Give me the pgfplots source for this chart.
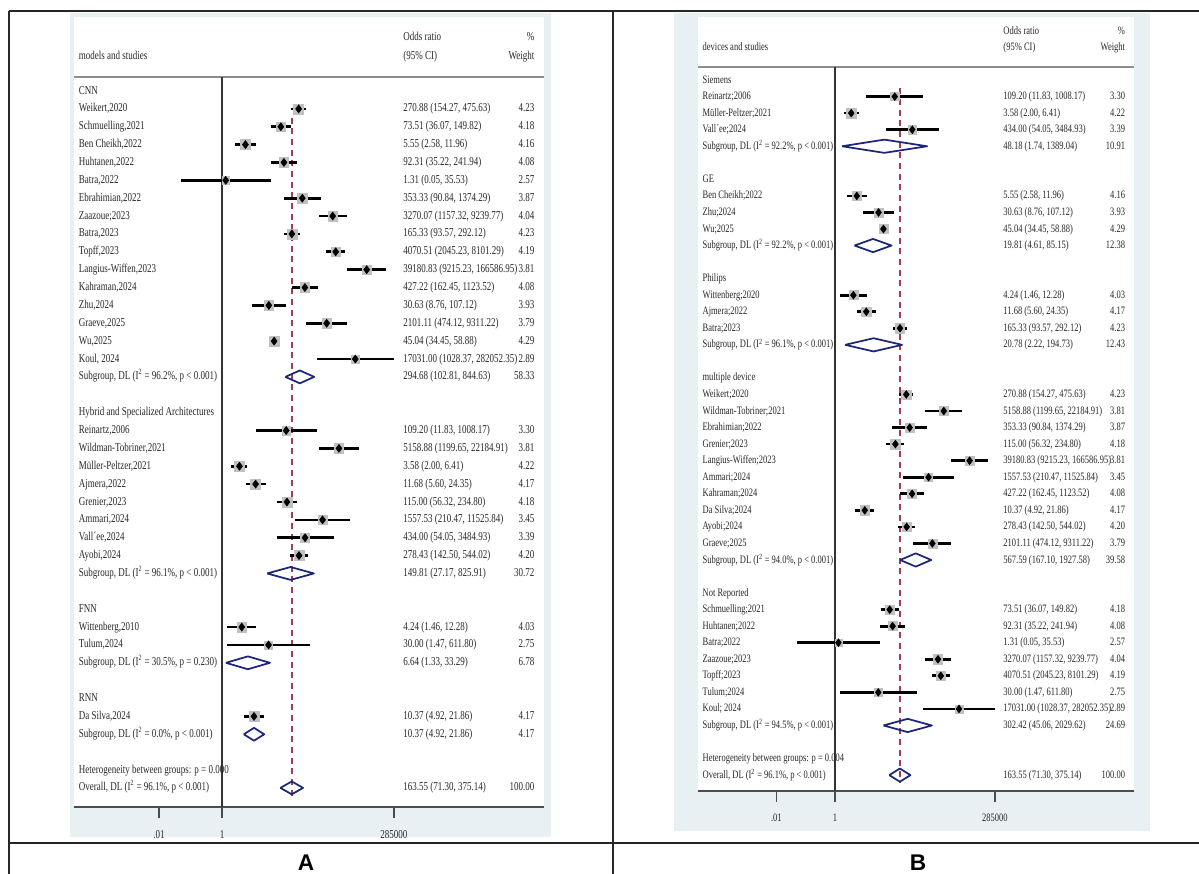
\documentclass[border=0pt]{standalone}
\usepackage{fontspec}
\setmainfont{Liberation Serif}[FakeStretch=0.75]
\newfontfamily\labfont{Liberation Sans}
\usepackage{pgfplots}
\usepackage{pgfplotstable}
\pgfplotsset{compat=1.18}

\definecolor{bgc}{RGB}{233,240,243}
\definecolor{navyd}{RGB}{28,38,120}
\definecolor{dashc}{RGB}{160,60,85}
\definecolor{sqc}{RGB}{192,192,192}
\definecolor{txtc}{RGB}{40,40,40}

\newcommand\fA{\fontsize{9}{10}\selectfont}
\newcommand\fB{\fontsize{8.5}{9.5}\selectfont}

% r = row (0 = first row under the header), or, lower, upper, weight
\pgfplotstableread{
r or lo hi w
1 270.88 154.27 475.63 4.23
2 73.51 36.07 149.82 4.18
3 5.55 2.58 11.96 4.16
4 92.31 35.22 241.94 4.08
5 1.31 0.05 35.53 2.57
6 353.33 90.84 1374.29 3.87
7 3270.07 1157.32 9239.77 4.04
8 165.33 93.57 292.12 4.23
9 4070.51 2045.23 8101.29 4.19
10 39180.83 9215.23 166586.95 3.81
11 427.22 162.45 1123.52 4.08
12 30.63 8.76 107.12 3.93
13 2101.11 474.12 9311.22 3.79
14 45.04 34.45 58.88 4.29
15 17031.00 1028.37 282052.35 2.89
19 109.20 11.83 1008.17 3.30
20 5158.88 1199.65 22184.91 3.81
21 3.58 2.00 6.41 4.22
22 11.68 5.60 24.35 4.17
23 115.00 56.32 234.80 4.18
24 1557.53 210.47 11525.84 3.45
25 434.00 54.05 3484.93 3.39
26 278.43 142.50 544.02 4.20
30 4.24 1.46 12.28 4.03
31 30.00 1.47 611.80 2.75
35 10.37 4.92 21.86 4.17
}\studiesA

\pgfplotstableread{
r or lo hi w
1 109.20 11.83 1008.17 3.30
2 3.58 2.00 6.41 4.22
3 434.00 54.05 3484.93 3.39
7 5.55 2.58 11.96 4.16
8 30.63 8.76 107.12 3.93
9 45.04 34.45 58.88 4.29
13 4.24 1.46 12.28 4.03
14 11.68 5.60 24.35 4.17
15 165.33 93.57 292.12 4.23
19 270.88 154.27 475.63 4.23
20 5158.88 1199.65 22184.91 3.81
21 353.33 90.84 1374.29 3.87
22 115.00 56.32 234.80 4.18
23 39180.83 9215.23 166586.95 3.81
24 1557.53 210.47 11525.84 3.45
25 427.22 162.45 1123.52 4.08
26 10.37 4.92 21.86 4.17
27 278.43 142.50 544.02 4.20
28 2101.11 474.12 9311.22 3.79
32 73.51 36.07 149.82 4.18
33 92.31 35.22 241.94 4.08
34 1.31 0.05 35.53 2.57
35 3270.07 1157.32 9239.77 4.04
36 4070.51 2045.23 8101.29 4.19
37 30.00 1.47 611.80 2.75
38 17031.00 1028.37 282052.35 2.89
}\studiesB

\pgfplotsset{
  ci/.style={black, line width=2pt, mark=none, forget plot},
  diam/.style={navyd, line width=1.3pt, mark=none, line join=round, forget plot},
}
\tikzset{
  tA/.style={font=\fA, text=txtc, inner sep=0pt},
  tB/.style={font=\fB, text=txtc, inner sep=0pt},
}

\newcommand{\rw}[5]{%
 \node[#1,anchor=mid west] at ({rel axis cs:0.01,0}|-{axis cs:1,-#2}) {#3};
 \node[#1,anchor=mid west] at ({rel axis cs:0.70,0}|-{axis cs:1,-#2}) {#4};
 \node[#1,anchor=mid east] at ({rel axis cs:0.98,0}|-{axis cs:1,-#2}) {#5};}

\newcommand{\cilines}[1]{%
 \pgfplotsforeachungrouped \i in {0,...,25} {%
  \pgfplotstablegetelem{\i}{lo}\of#1 \let\cilo\pgfplotsretval
  \pgfplotstablegetelem{\i}{hi}\of#1 \let\cihi\pgfplotsretval
  \pgfplotstablegetelem{\i}{r}\of#1 \let\cir\pgfplotsretval
  \edef\tmp{\noexpand\addplot[ci] coordinates {(\cilo,-\cir) (\cihi,-\cir)};}\tmp
 }}

\begin{document}
\begin{tikzpicture}[x=0.75pt,y=-0.75pt]
\path[use as bounding box] (0,0) rectangle (1199,874);
\fill[bgc] (70,13) rectangle (551,837);
\fill[bgc] (674,13) rectangle (1150,831);

% ---------------- Panel A ----------------
\begin{axis}[scale only axis, xmode=log, anchor=north west,
  at={(55.5pt,-12.75pt)}, width=352.5pt, height=592.5pt,
  xmin=2.0e-5, xmax=1.67e10, ymin=-40.07, ymax=4.14,
  axis x line*=bottom, axis y line=none,
  x axis line style={-, line width=1.3pt, black!70},
  ytick=\empty, xtick={0.01,1,285000}, xticklabels={.01,1,285000},
  minor xtick={}, tick align=outside, major tick length=8pt,
  tick style={line width=1.2pt, black!70},
  axis background/.style={fill=white}, clip=false,
  xticklabel style={font=\fA, text=txtc, yshift=-6pt}]
\draw[black!45, line width=1.1pt] ({rel axis cs:0,0}|-{axis cs:1,0.78}) -- ({rel axis cs:1,0}|-{axis cs:1,0.78});
\draw[black!80, line width=0.9pt] (axis cs:1,0.78) -- (axis cs:1,-40.07);
\addplot[dashc, line width=1.25pt, dash pattern=on 4.5pt off 3.5pt, forget plot] coordinates {(163.55,-1.5) (163.55,-39.5)};
\addplot[scatter, only marks, mark=square*, forget plot,
  scatter/use mapped color={draw=sqc, fill=sqc},
  visualization depends on={1.8*sqrt(\thisrow{w}) \as \msz},
  scatter/@pre marker code/.append style={/tikz/mark size=\msz}]
  table[x=or, y expr=-\thisrow{r}] {\studiesA};
\cilines{\studiesA}
\addplot[only marks, mark=diamond*, mark size=3pt, black, forget plot] table[x=or, y expr=-\thisrow{r}] {\studiesA};
\addplot[diam] coordinates {(102.81,-16) (294.68,-15.64) (844.63,-16) (294.68,-16.36) (102.81,-16)};
\addplot[diam] coordinates {(27.17,-27) (149.81,-26.64) (825.91,-27) (149.81,-27.36) (27.17,-27)};
\addplot[diam] coordinates {(1.33,-32) (6.64,-31.64) (33.29,-32) (6.64,-32.36) (1.33,-32)};
\addplot[diam] coordinates {(4.92,-36) (10.37,-35.64) (21.86,-36) (10.37,-36.36) (4.92,-36)};
\addplot[diam] coordinates {(71.30,-39) (163.55,-38.64) (375.14,-39) (163.55,-39.36) (71.30,-39)};
\node[tA,anchor=mid west] at ({rel axis cs:0.01,0}|-{axis cs:1,1.96}) {models and studies};
\node[tA,anchor=mid west] at ({rel axis cs:0.70,0}|-{axis cs:1,3.02}) {Odds ratio};
\node[tA,anchor=mid west] at ({rel axis cs:0.70,0}|-{axis cs:1,1.96}) {(95\% CI)};
\node[tA,anchor=mid east] at ({rel axis cs:0.98,0}|-{axis cs:1,3.02}) {\%};
\node[tA,anchor=mid east] at ({rel axis cs:0.98,0}|-{axis cs:1,1.96}) {Weight};
\rw{tA}{0}{CNN}{}{}
\rw{tA}{1}{Weikert,2020}{270.88 (154.27, 475.63)}{4.23}
\rw{tA}{2}{Schmuelling,2021}{73.51 (36.07, 149.82)}{4.18}
\rw{tA}{3}{Ben Cheikh,2022}{5.55 (2.58, 11.96)}{4.16}
\rw{tA}{4}{Huhtanen,2022}{92.31 (35.22, 241.94)}{4.08}
\rw{tA}{5}{Batra,2022}{1.31 (0.05, 35.53)}{2.57}
\rw{tA}{6}{Ebrahimian,2022}{353.33 (90.84, 1374.29)}{3.87}
\rw{tA}{7}{Zaazoue;2023}{3270.07 (1157.32, 9239.77)}{4.04}
\rw{tA}{8}{Batra,2023}{165.33 (93.57, 292.12)}{4.23}
\rw{tA}{9}{Topff,2023}{4070.51 (2045.23, 8101.29)}{4.19}
\rw{tA}{10}{Langius-Wiffen,2023}{39180.83 (9215.23, 166586.95)}{3.81}
\rw{tA}{11}{Kahraman,2024}{427.22 (162.45, 1123.52)}{4.08}
\rw{tA}{12}{Zhu,2024}{30.63 (8.76, 107.12)}{3.93}
\rw{tA}{13}{Graeve,2025}{2101.11 (474.12, 9311.22)}{3.79}
\rw{tA}{14}{Wu,2025}{45.04 (34.45, 58.88)}{4.29}
\rw{tA}{15}{Koul, 2024}{17031.00 (1028.37, 282052.35)}{2.89}
\rw{tA}{16}{Subgroup, DL (I\textsuperscript{2} = 96.2\%, p < 0.001)}{294.68 (102.81, 844.63)}{58.33}
\rw{tA}{18}{Hybrid and Specialized Architectures}{}{}
\rw{tA}{19}{Reinartz,2006}{109.20 (11.83, 1008.17)}{3.30}
\rw{tA}{20}{Wildman-Tobriner,2021}{5158.88 (1199.65, 22184.91)}{3.81}
\rw{tA}{21}{Müller-Peltzer,2021}{3.58 (2.00, 6.41)}{4.22}
\rw{tA}{22}{Ajmera,2022}{11.68 (5.60, 24.35)}{4.17}
\rw{tA}{23}{Grenier,2023}{115.00 (56.32, 234.80)}{4.18}
\rw{tA}{24}{Ammari,2024}{1557.53 (210.47, 11525.84)}{3.45}
\rw{tA}{25}{Vall´ee,2024}{434.00 (54.05, 3484.93)}{3.39}
\rw{tA}{26}{Ayobi,2024}{278.43 (142.50, 544.02)}{4.20}
\rw{tA}{27}{Subgroup, DL (I\textsuperscript{2} = 96.1\%, p < 0.001)}{149.81 (27.17, 825.91)}{30.72}
\rw{tA}{29}{FNN}{}{}
\rw{tA}{30}{Wittenberg,2010}{4.24 (1.46, 12.28)}{4.03}
\rw{tA}{31}{Tulum,2024}{30.00 (1.47, 611.80)}{2.75}
\rw{tA}{32}{Subgroup, DL (I\textsuperscript{2} = 30.5\%, p = 0.230)}{6.64 (1.33, 33.29)}{6.78}
\rw{tA}{34}{RNN}{}{}
\rw{tA}{35}{Da Silva,2024}{10.37 (4.92, 21.86)}{4.17}
\rw{tA}{36}{Subgroup, DL (I\textsuperscript{2} = 0.0\%, p < 0.001)}{10.37 (4.92, 21.86)}{4.17}
\rw{tA}{38}{Heterogeneity between groups: p = 0.000}{}{}
\rw{tA}{39}{Overall, DL (I\textsuperscript{2} = 96.1\%, p < 0.001)}{163.55 (71.30, 375.14)}{100.00}
\end{axis}

% ---------------- Panel B ----------------
\begin{axis}[scale only axis, xmode=log, anchor=north west,
  at={(523.5pt,-12.75pt)}, width=327pt, height=580.5pt,
  xmin=2.11e-5, xmax=1.6e10, ymin=-42.96, ymax=3.81,
  axis x line*=bottom, axis y line=none,
  x axis line style={-, line width=1.3pt, black!70},
  ytick=\empty, xtick={0.01,1,285000}, xticklabels={.01,1,285000},
  minor xtick={}, tick align=outside, major tick length=8pt,
  tick style={line width=1.2pt, black!70},
  axis background/.style={fill=white}, clip=false,
  xticklabel style={font=\fB, text=txtc, yshift=-6pt}]
\draw[black!45, line width=1.1pt] ({rel axis cs:0,0}|-{axis cs:1,0.79}) -- ({rel axis cs:1,0}|-{axis cs:1,0.79});
\draw[black!80, line width=0.9pt] (axis cs:1,0.79) -- (axis cs:1,-42.96);
\addplot[dashc, line width=1.25pt, dash pattern=on 4.5pt off 3.5pt, forget plot] coordinates {(163.55,-0.5) (163.55,-42.5)};
\addplot[scatter, only marks, mark=square*, forget plot,
  scatter/use mapped color={draw=sqc, fill=sqc},
  visualization depends on={1.7*sqrt(\thisrow{w}) \as \msz},
  scatter/@pre marker code/.append style={/tikz/mark size=\msz}]
  table[x=or, y expr=-\thisrow{r}] {\studiesB};
\cilines{\studiesB}
\addplot[only marks, mark=diamond*, mark size=2.9pt, black, forget plot] table[x=or, y expr=-\thisrow{r}] {\studiesB};
\addplot[diam] coordinates {(1.74,-4) (48.18,-3.6) (1389.04,-4) (48.18,-4.4) (1.74,-4)};
\addplot[diam] coordinates {(4.61,-10) (19.81,-9.6) (85.15,-10) (19.81,-10.4) (4.61,-10)};
\addplot[diam] coordinates {(2.22,-16) (20.78,-15.6) (194.73,-16) (20.78,-16.4) (2.22,-16)};
\addplot[diam] coordinates {(167.10,-29) (567.59,-28.6) (1927.58,-29) (567.59,-29.4) (167.10,-29)};
\addplot[diam] coordinates {(45.06,-39) (302.42,-38.6) (2029.62,-39) (302.42,-39.4) (45.06,-39)};
\addplot[diam] coordinates {(71.30,-42) (163.55,-41.6) (375.14,-42) (163.55,-42.4) (71.30,-42)};
\node[tB,anchor=mid west] at ({rel axis cs:0.01,0}|-{axis cs:1,1.99}) {devices and studies};
\node[tB,anchor=mid west] at ({rel axis cs:0.70,0}|-{axis cs:1,2.96}) {Odds ratio};
\node[tB,anchor=mid west] at ({rel axis cs:0.70,0}|-{axis cs:1,1.99}) {(95\% CI)};
\node[tB,anchor=mid east] at ({rel axis cs:0.98,0}|-{axis cs:1,2.96}) {\%};
\node[tB,anchor=mid east] at ({rel axis cs:0.98,0}|-{axis cs:1,1.99}) {Weight};
\rw{tB}{0}{Siemens}{}{}
\rw{tB}{1}{Reinartz;2006}{109.20 (11.83, 1008.17)}{3.30}
\rw{tB}{2}{Müller-Peltzer;2021}{3.58 (2.00, 6.41)}{4.22}
\rw{tB}{3}{Vall´ee;2024}{434.00 (54.05, 3484.93)}{3.39}
\rw{tB}{4}{Subgroup, DL (I\textsuperscript{2} = 92.2\%, p < 0.001)}{48.18 (1.74, 1389.04)}{10.91}
\rw{tB}{6}{GE}{}{}
\rw{tB}{7}{Ben Cheikh;2022}{5.55 (2.58, 11.96)}{4.16}
\rw{tB}{8}{Zhu;2024}{30.63 (8.76, 107.12)}{3.93}
\rw{tB}{9}{Wu;2025}{45.04 (34.45, 58.88)}{4.29}
\rw{tB}{10}{Subgroup, DL (I\textsuperscript{2} = 92.2\%, p < 0.001)}{19.81 (4.61, 85.15)}{12.38}
\rw{tB}{12}{Philips}{}{}
\rw{tB}{13}{Wittenberg;2020}{4.24 (1.46, 12.28)}{4.03}
\rw{tB}{14}{Ajmera;2022}{11.68 (5.60, 24.35)}{4.17}
\rw{tB}{15}{Batra;2023}{165.33 (93.57, 292.12)}{4.23}
\rw{tB}{16}{Subgroup, DL (I\textsuperscript{2} = 96.1\%, p < 0.001)}{20.78 (2.22, 194.73)}{12.43}
\rw{tB}{18}{multiple device}{}{}
\rw{tB}{19}{Weikert;2020}{270.88 (154.27, 475.63)}{4.23}
\rw{tB}{20}{Wildman-Tobriner;2021}{5158.88 (1199.65, 22184.91)}{3.81}
\rw{tB}{21}{Ebrahimian;2022}{353.33 (90.84, 1374.29)}{3.87}
\rw{tB}{22}{Grenier;2023}{115.00 (56.32, 234.80)}{4.18}
\rw{tB}{23}{Langius-Wiffen;2023}{39180.83 (9215.23, 166586.95)}{3.81}
\rw{tB}{24}{Ammari;2024}{1557.53 (210.47, 11525.84)}{3.45}
\rw{tB}{25}{Kahraman;2024}{427.22 (162.45, 1123.52)}{4.08}
\rw{tB}{26}{Da Silva;2024}{10.37 (4.92, 21.86)}{4.17}
\rw{tB}{27}{Ayobi;2024}{278.43 (142.50, 544.02)}{4.20}
\rw{tB}{28}{Graeve;2025}{2101.11 (474.12, 9311.22)}{3.79}
\rw{tB}{29}{Subgroup, DL (I\textsuperscript{2} = 94.0\%, p < 0.001)}{567.59 (167.10, 1927.58)}{39.58}
\rw{tB}{31}{Not Reported}{}{}
\rw{tB}{32}{Schmuelling;2021}{73.51 (36.07, 149.82)}{4.18}
\rw{tB}{33}{Huhtanen;2022}{92.31 (35.22, 241.94)}{4.08}
\rw{tB}{34}{Batra;2022}{1.31 (0.05, 35.53)}{2.57}
\rw{tB}{35}{Zaazoue;2023}{3270.07 (1157.32, 9239.77)}{4.04}
\rw{tB}{36}{Topff;2023}{4070.51 (2045.23, 8101.29)}{4.19}
\rw{tB}{37}{Tulum;2024}{30.00 (1.47, 611.80)}{2.75}
\rw{tB}{38}{Koul; 2024}{17031.00 (1028.37, 282052.35)}{2.89}
\rw{tB}{39}{Subgroup, DL (I\textsuperscript{2} = 94.5\%, p < 0.001)}{302.42 (45.06, 2029.62)}{24.69}
\rw{tB}{41}{Heterogeneity between groups: p = 0.004}{}{}
\rw{tB}{42}{Overall, DL (I\textsuperscript{2} = 96.1\%, p < 0.001)}{163.55 (71.30, 375.14)}{100.00}
\end{axis}

% ---------------- frame and panel letters ----------------
\draw[black!85, line width=1.3pt] (9,11) -- (1199,11);
\draw[black!85, line width=1.3pt] (9,11) -- (9,874);
\draw[black!85, line width=1.3pt] (613,11) -- (613,874);
\draw[black!85, line width=1.3pt] (9,843) -- (1199,843);
\node[anchor=base, inner sep=0pt, font={\labfont\bfseries\fontsize{17}{19}\selectfont}] at (306,870) {A};
\node[anchor=base, inner sep=0pt, font={\labfont\bfseries\fontsize{17}{19}\selectfont}] at (918,870) {B};
\end{tikzpicture}
\end{document}
